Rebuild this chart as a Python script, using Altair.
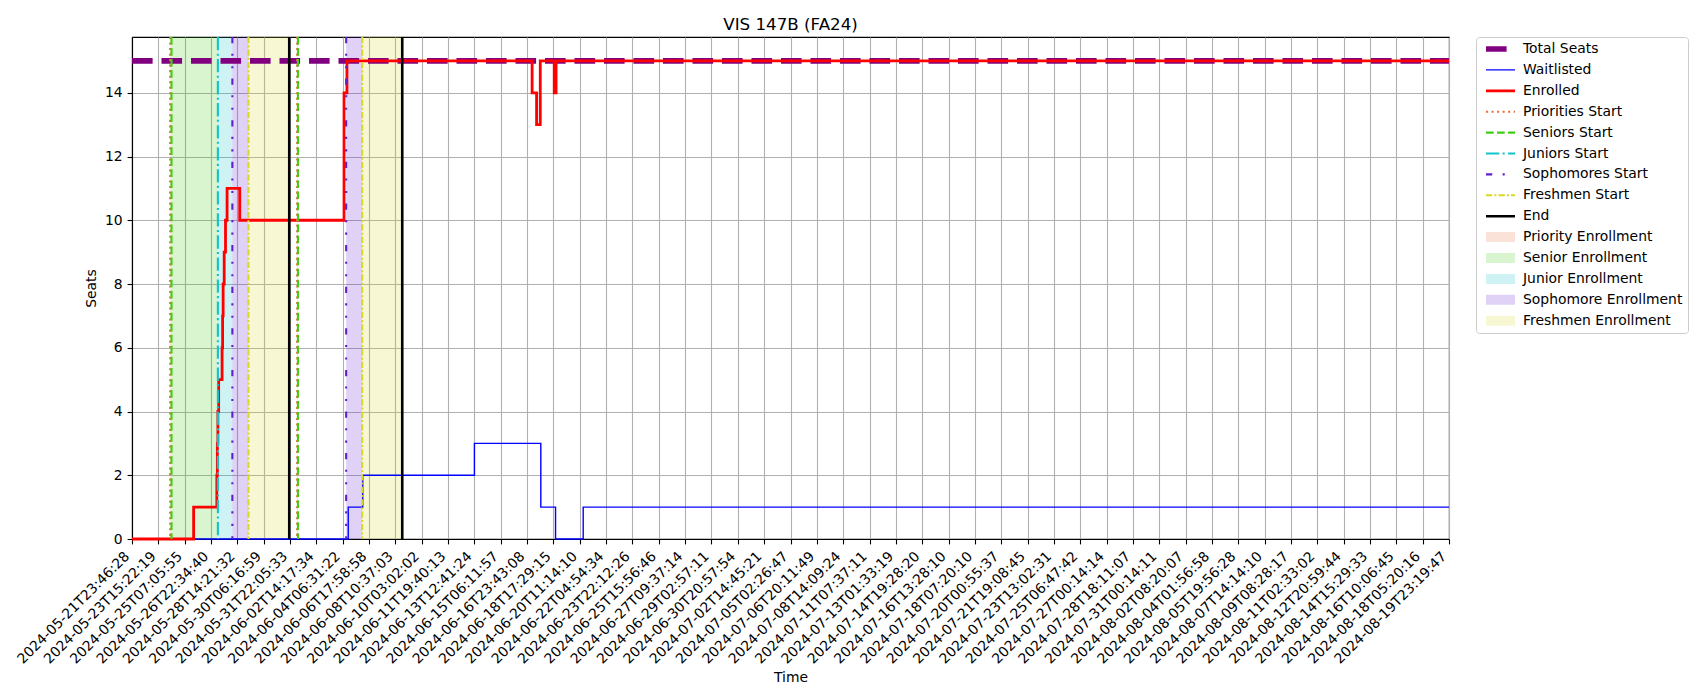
import pandas as pd
import altair as alt

# x is measured in tick units: tick i of the time axis sits at x = i
tick_labels = [
    "2024-05-21T23:46:28", "2024-05-23T15:22:19", "2024-05-25T07:05:55", "2024-05-26T22:34:40",
    "2024-05-28T14:21:32", "2024-05-30T06:16:59", "2024-05-31T22:05:33", "2024-06-02T14:17:34",
    "2024-06-04T06:31:22", "2024-06-06T17:58:58", "2024-06-08T10:37:03", "2024-06-10T03:02:02",
    "2024-06-11T19:40:13", "2024-06-13T12:41:24", "2024-06-15T06:11:57", "2024-06-16T23:43:08",
    "2024-06-18T17:29:15", "2024-06-20T11:14:10", "2024-06-22T04:54:34", "2024-06-23T22:12:26",
    "2024-06-25T15:56:46", "2024-06-27T09:37:14", "2024-06-29T02:57:11", "2024-06-30T20:57:54",
    "2024-07-02T14:45:21", "2024-07-05T02:26:47", "2024-07-06T20:11:49", "2024-07-08T14:09:24",
    "2024-07-11T07:37:11", "2024-07-13T01:33:19", "2024-07-14T19:28:20", "2024-07-16T13:28:10",
    "2024-07-18T07:20:10", "2024-07-20T00:55:37", "2024-07-21T19:08:45", "2024-07-23T13:02:31",
    "2024-07-25T06:47:42", "2024-07-27T00:14:14", "2024-07-28T18:11:07", "2024-07-31T00:14:11",
    "2024-08-02T08:20:07", "2024-08-04T01:56:58", "2024-08-05T19:56:28", "2024-08-07T14:14:10",
    "2024-08-09T08:28:17", "2024-08-11T02:33:02", "2024-08-12T20:59:44", "2024-08-14T15:29:33",
    "2024-08-16T10:06:45", "2024-08-18T05:20:16", "2024-08-19T23:19:47",
]

total_x = [0, 50]
total_y = [15, 15]

wait_x = [0, 8.21, 8.76, 13.0, 15.52, 16.08, 17.13, 50]
wait_y = [0, 1, 2, 3, 1, 0, 1, 1]

enrolled_x = [0, 2.34, 3.22, 3.24, 3.26, 3.29, 3.42, 3.44, 3.46, 3.50, 3.55, 3.61,
              4.09, 8.05, 8.16, 15.19, 15.36, 15.50, 16.03, 16.10, 50]
enrolled_y = [0, 1, 2, 3, 4, 5, 6, 7, 8, 9, 10, 11, 10, 14, 15, 14, 13, 15, 14, 15, 15]

marker_names = ["Priorities Start", "Seniors Start", "Juniors Start", "Sophomores Start",
                "Freshmen Start", "End", "Priorities Start", "Seniors Start",
                "Sophomores Start", "Freshmen Start", "End"]
marker_x = [1.45, 1.50, 3.26, 3.81, 4.42, 5.97, 6.27, 6.30, 8.13, 8.74, 10.26]

span_names = ["Priority Enrollment", "Senior Enrollment", "Junior Enrollment",
              "Sophomore Enrollment", "Freshmen Enrollment", "Priority Enrollment",
              "Sophomore Enrollment", "Freshmen Enrollment"]
span_start = [1.45, 1.50, 3.26, 3.81, 4.42, 6.27, 8.13, 8.74]
span_end = [1.50, 3.26, 3.81, 4.42, 5.97, 6.30, 8.74, 10.26]

series = ["Total Seats", "Waitlisted", "Enrolled", "Priorities Start", "Seniors Start",
          "Juniors Start", "Sophomores Start", "Freshmen Start", "End",
          "Priority Enrollment", "Senior Enrollment", "Junior Enrollment",
          "Sophomore Enrollment", "Freshmen Enrollment"]
colors = ["#800080", "#0000ff", "#ff0000", "#e9703a", "#41cd14", "#10c4cc", "#5f1fd0",
          "#d8d82a", "#000000",
          "rgba(233,112,58,0.2)", "rgba(65,205,20,0.2)", "rgba(16,196,204,0.2)",
          "rgba(95,31,208,0.2)", "rgba(216,216,42,0.2)"]
dashes = [[20.6, 8.9], [1, 0], [1, 0], [2.08, 3.44], [7.7, 3.33],
          [13.3, 3.33, 2.08, 3.33], [6.25, 10.4, 2.08, 10.4, 2.08, 10.4],
          [6.25, 2.08, 2.08, 2.08], [1, 0],
          [1, 0], [1, 0], [1, 0], [1, 0], [1, 0]]
widths = [5.6, 1.4, 2.8, 2.1, 2.1, 2.1, 2.1, 2.1, 2.6, 10, 10, 10, 10, 10]

lines = pd.DataFrame({
    "x": total_x + wait_x + enrolled_x,
    "y": total_y + wait_y + enrolled_y,
    "series": ["Total Seats"] * len(total_x) + ["Waitlisted"] * len(wait_x)
              + ["Enrolled"] * len(enrolled_x),
})
markers = pd.DataFrame({"x": marker_x, "series": marker_names})
spans = pd.DataFrame({"x": span_start, "x2": span_end, "series": span_names})

FONT = "DejaVu Sans"
color_scale = alt.Scale(domain=series, range=colors)
dash_scale = alt.Scale(type="ordinal", domain=series, range=dashes)
width_scale = alt.Scale(type="ordinal", domain=series, range=widths)
fill_scale = alt.Scale(domain=series[9:], range=colors[9:])

legend = alt.Legend(
    title=None, orient="right", offset=15, symbolType="stroke", symbolSize=841,
    clipHeight=14, rowPadding=6.9, labelOffset=3, labelFont=FONT,
    labelFontSize=13.9, labelColor="black", labelLimit=400, padding=5,
    strokeColor="#cccccc", cornerRadius=3, fillColor="white", symbolOpacity=1,
)

label_js = "[" + ",".join("'%s'" % t for t in tick_labels) + "]"
x_enc = alt.X(
    "x:Q",
    scale=alt.Scale(domain=[0, 50], nice=False, zero=False),
    axis=alt.Axis(
        title="Time", values=list(range(51)),
        labelExpr=label_js + "[round(datum.value)]",
        labelAngle=-45, labelAlign="right", labelBaseline="middle",
        labelPadding=10, labelOffset=-5, labelOverlap=False, labelFlush=False,
        titleY=138, titleBaseline="middle",
    ),
)
y_enc = alt.Y(
    "y:Q",
    scale=alt.Scale(domain=[0, 15.75], nice=False, zero=True),
    axis=alt.Axis(title="Seats", values=list(range(0, 15, 2)), titleX=-41,
                  titleY=251, titleBaseline="middle", titleAlign="center"),
)

span_layer = alt.Chart(spans).mark_rect().encode(
    x=x_enc, x2="x2:Q",
    fill=alt.Fill("series:N", scale=fill_scale, legend=None),
)

line_layer = alt.Chart(lines).mark_line(interpolate="step-after").encode(
    x=x_enc, y=y_enc,
    color=alt.Color("series:N", scale=color_scale, legend=legend),
    strokeDash=alt.StrokeDash("series:N", scale=dash_scale, legend=legend),
    strokeWidth=alt.StrokeWidth("series:N", scale=width_scale, legend=legend),
    order=alt.Order("x:Q"),
)

marker_layer = alt.Chart(markers).mark_rule().encode(
    x=x_enc,
    color=alt.Color("series:N", scale=color_scale),
    strokeDash=alt.StrokeDash("series:N", scale=dash_scale),
    strokeWidth=alt.StrokeWidth("series:N", scale=width_scale),
)

chart = alt.layer(span_layer, line_layer, marker_layer).properties(
    width=1317,
    height=502,
    title=alt.TitleParams("VIS 147B (FA24)", font=FONT, fontSize=16.7,
                          fontWeight="normal", color="black", offset=2.5),
    autosize=alt.AutoSizeParams(type="none"),
    padding={"left": 124, "top": 29, "right": 243, "bottom": 153},
).configure_view(
    stroke="black", strokeWidth=1.1,
).configure_axis(
    labelFont=FONT, labelFontSize=13.9, labelColor="black",
    titleFont=FONT, titleFontSize=13.9, titleFontWeight="normal", titleColor="black",
    grid=True, gridColor="#b0b0b0", gridWidth=1.1,
    domainColor="black", domainWidth=1.1,
    tickColor="black", tickWidth=1.1, tickSize=4.9, labelPadding=4.9,
)

chart.save("out.html", embed_options={"renderer": "svg", "actions": False})
